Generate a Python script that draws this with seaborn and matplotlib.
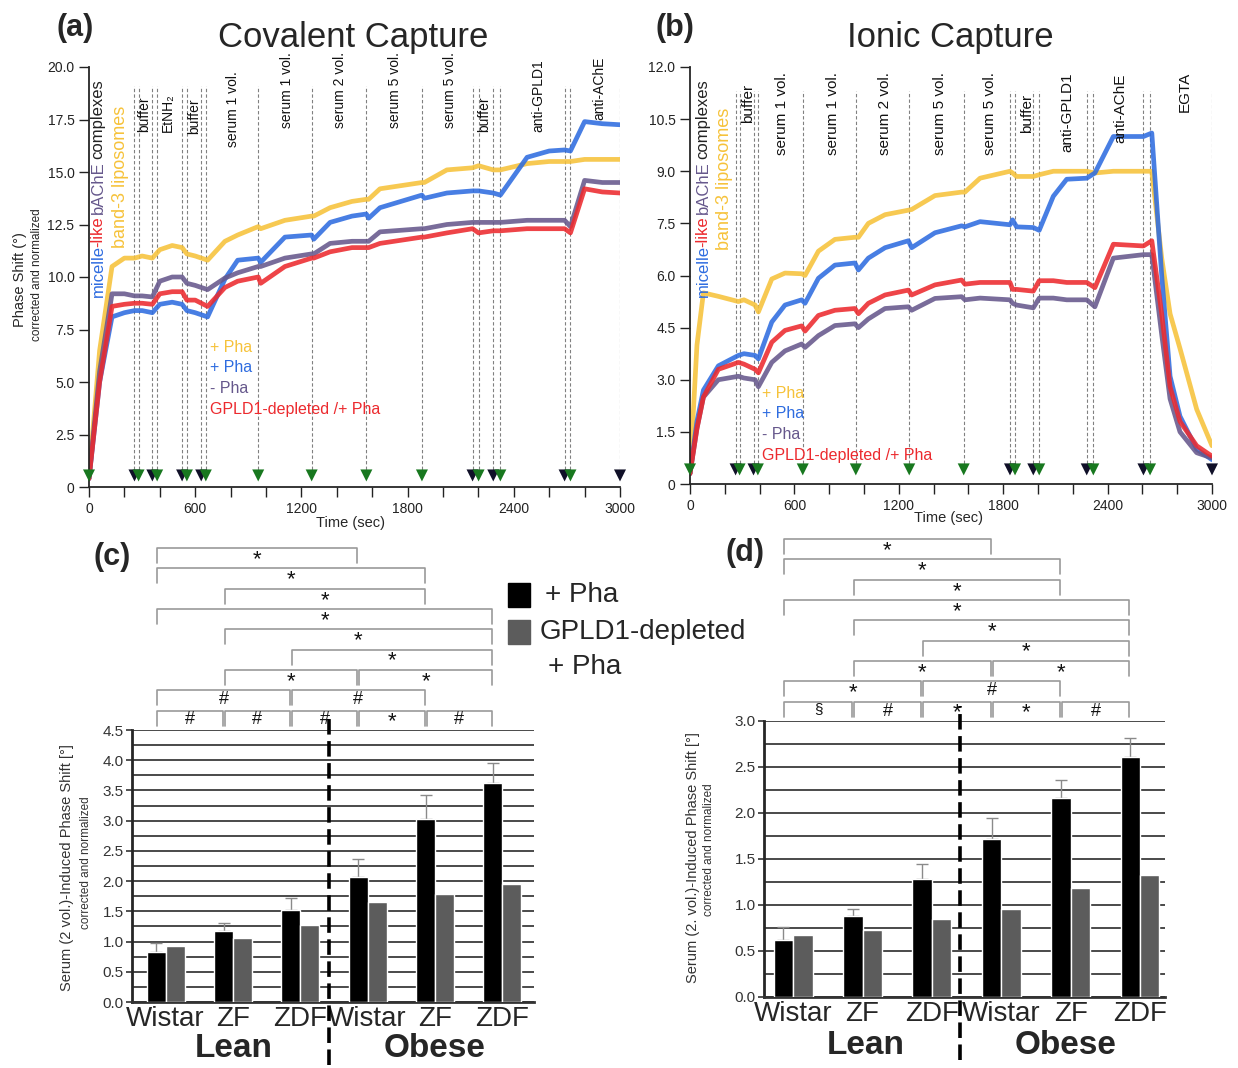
import numpy as np
import pandas as pd
import matplotlib
matplotlib.use("Agg")
import matplotlib.pyplot as plt
from matplotlib.patches import Rectangle
import seaborn as sns

# ── Sensor traces, panel (a): covalent capture ─────────────────────────────
t_a = [0, 60, 130, 200, 257, 300, 358, 400, 470, 526, 553, 600, 670, 768, 840,
       956, 970, 1107, 1258, 1270, 1362, 1486, 1567, 1580, 1644, 1881, 1895,
       2022, 2167, 2201, 2284, 2324, 2475, 2600, 2687, 2720, 2800, 2900, 3000]
a_band3 = [0.5, 6.5, 10.5, 10.9, 10.9, 11.0, 10.9, 11.3, 11.5, 11.4, 11.1, 11.0,
           10.8, 11.7, 12.0, 12.4, 12.3, 12.7, 12.9, 12.9, 13.3, 13.6, 13.7, 13.7,
           14.2, 14.5, 14.5, 15.1, 15.2, 15.3, 15.1, 15.1, 15.4, 15.5, 15.5, 15.5,
           15.6, 15.6, 15.6]
a_micelle = [0.4, 5.0, 8.1, 8.3, 8.4, 8.4, 8.3, 8.7, 8.8, 8.7, 8.4, 8.3, 8.1, 9.9,
             10.8, 10.9, 10.7, 11.9, 12.0, 11.8, 12.6, 12.9, 13.0, 12.8, 13.3, 13.9,
             13.75, 14.0, 14.1, 14.1, 14.0, 13.9, 15.7, 16.0, 16.05, 16.0, 17.4,
             17.3, 17.25]
a_nopha = [0.4, 5.5, 9.2, 9.2, 9.1, 9.1, 9.05, 9.8, 10.0, 10.0, 9.7, 9.6, 9.4,
           9.95, 10.2, 10.5, 10.5, 10.9, 11.1, 11.1, 11.6, 11.7, 11.7, 11.7, 12.15,
           12.3, 12.3, 12.5, 12.6, 12.6, 12.6, 12.6, 12.7, 12.7, 12.7, 12.4, 14.6,
           14.5, 14.5]
a_depleted = [0.4, 5.0, 8.6, 8.7, 8.75, 8.75, 8.7, 9.2, 9.3, 9.3, 8.9, 8.9, 8.6,
              9.5, 9.8, 10.0, 9.7, 10.5, 10.9, 10.9, 11.2, 11.4, 11.4, 11.4, 11.6,
              11.9, 11.9, 12.1, 12.3, 12.1, 12.2, 12.2, 12.3, 12.3, 12.3, 12.1,
              14.2, 14.05, 14.0]

# ── Sensor traces, panel (b): ionic capture ────────────────────────────────
t_b = [0, 40, 77, 163, 278, 310, 374, 393, 470, 546, 642, 661, 738, 833, 948,
       968, 1025, 1121, 1255, 1274, 1408, 1561, 1580, 1667, 1839, 1854, 1877,
       1973, 2007, 2088, 2165, 2280, 2327, 2433, 2606, 2654, 2711, 2759, 2816,
       2912, 3000]
b_band3 = [0.3, 4.0, 5.5, 5.4, 5.25, 5.3, 5.15, 4.95, 5.9, 6.07, 6.05, 6.0, 6.7,
           7.04, 7.1, 7.1, 7.5, 7.75, 7.88, 7.9, 8.3, 8.4, 8.4, 8.8, 9.0, 8.95,
           8.85, 8.85, 8.9, 9.0, 9.0, 9.0, 8.95, 9.0, 9.0, 9.0, 6.5, 4.9, 3.9,
           2.15, 1.1]
b_micelle = [0.3, 1.8, 2.7, 3.4, 3.7, 3.75, 3.7, 3.6, 4.66, 5.15, 5.3, 5.2, 5.92,
             6.3, 6.36, 6.16, 6.5, 6.8, 7.0, 6.8, 7.23, 7.43, 7.4, 7.55, 7.46, 7.6,
             7.4, 7.38, 7.3, 8.28, 8.77, 8.8, 8.95, 10.0, 10.0, 10.1, 6.0, 3.1,
             1.95, 1.0, 0.7]
b_nopha = [0.3, 1.6, 2.5, 3.0, 3.1, 3.05, 3.0, 2.8, 3.5, 3.83, 4.03, 3.93, 4.27,
           4.56, 4.61, 4.5, 4.75, 5.05, 5.1, 5.0, 5.34, 5.39, 5.3, 5.35, 5.3, 5.2,
           5.15, 5.07, 5.35, 5.35, 5.3, 5.3, 5.1, 6.5, 6.6, 6.6, 4.3, 2.45, 1.5,
           0.9, 0.75]
b_depleted = [0.3, 1.6, 2.5, 3.3, 3.5, 3.45, 3.3, 3.2, 4.08, 4.42, 4.55, 4.4,
              4.85, 5.0, 5.05, 4.9, 5.2, 5.44, 5.58, 5.44, 5.73, 5.87, 5.75, 5.8,
              5.8, 5.6, 5.6, 5.55, 5.85, 5.85, 5.8, 5.8, 5.65, 6.9, 6.85, 7.0, 4.9,
              2.8, 1.8, 1.1, 0.8]

# injections: time and kind (g = sample, k = wash)
ev_a_t = [0, 257, 280, 358, 385, 526, 553, 634, 660, 956, 1258, 1567, 1881,
          2167, 2201, 2284, 2324, 2687, 2720, 3000]
ev_a_k = ["g", "k", "g", "k", "g", "k", "g", "k", "g", "g", "g", "g", "g",
          "k", "g", "k", "g", "k", "g", "k"]
ev_b_t = [0, 262, 285, 365, 390, 648, 953, 1260, 1573, 1839, 1868, 1973, 2007,
          2280, 2318, 2606, 2644, 3000]
ev_b_k = ["g", "k", "g", "k", "g", "g", "g", "g", "g", "k", "g", "k", "g",
          "k", "g", "k", "g", "k"]

lab_a = ["buffer", "EtNH₂", "buffer", "serum 1 vol.", "serum 1 vol.", "serum 2 vol.",
         "serum 5 vol.", "serum 5 vol.", "buffer", "anti-GPLD1", "anti-AChE"]
lab_a_t = [311, 446, 593, 814, 1119, 1418, 1729, 2040, 2232, 2537, 2881]
lab_a_y = [16.9, 16.9, 16.8, 16.2, 17.1, 17.1, 17.1, 17.1, 16.9, 16.9, 17.5]
lab_b = ["buffer", "serum 1 vol.", "serum 1 vol.", "serum 2 vol.", "serum 5 vol.",
         "serum 5 vol.", "buffer", "anti-GPLD1", "anti-AChE", "EGTA"]
lab_b_t = [333, 529, 822, 1121, 1437, 1724, 1937, 2167, 2471, 2845]
lab_b_y = [10.4, 9.47, 9.47, 9.47, 9.47, 9.47, 10.1, 9.55, 9.8, 10.7]

# ── Bar charts (c) and (d) ─────────────────────────────────────────────────
groups = ["Lean Wistar", "Lean ZF", "Lean ZDF", "Obese Wistar", "Obese ZF", "Obese ZDF"]
strains = ["Wistar", "ZF", "ZDF", "Wistar", "ZF", "ZDF"]
treatments = ["+ Pha", "GPLD1-depleted + Pha"]
c_pha = [0.83, 1.17, 1.52, 2.06, 3.02, 3.63]
c_pha_err = [0.14, 0.14, 0.20, 0.31, 0.40, 0.32]
c_depl = [0.93, 1.06, 1.28, 1.65, 1.79, 1.95]
d_pha = [0.62, 0.88, 1.28, 1.72, 2.16, 2.61]
d_pha_err = [0.14, 0.08, 0.17, 0.23, 0.20, 0.20]
d_depl = [0.67, 0.73, 0.85, 0.96, 1.19, 1.33]

# significance brackets: (from, to, symbol, row)  row 0 = closest to the plot
c_sig = [(0, 1, "#", 0), (1, 2, "#", 0), (2, 3, "#", 0), (3, 4, "*", 0), (4, 5, "#", 0),
         (0, 2, "#", 1), (2, 4, "#", 1), (1, 3, "*", 2), (3, 5, "*", 2),
         (2, 5, "*", 3), (1, 5, "*", 4), (0, 5, "*", 5), (1, 4, "*", 6),
         (0, 4, "*", 7), (0, 3, "*", 8)]
d_sig = [(0, 1, "§", 0), (1, 2, "#", 0), (2, 3, "*", 0), (3, 4, "*", 0), (4, 5, "#", 0),
         (0, 2, "*", 1), (2, 4, "#", 1), (1, 3, "*", 2), (3, 5, "*", 2),
         (2, 5, "*", 3), (1, 5, "*", 4), (0, 5, "*", 5), (1, 4, "*", 6),
         (0, 4, "*", 7), (0, 3, "*", 8)]

# ── Style ──────────────────────────────────────────────────────────────────
sns.set_style("ticks")
plt.rcParams["font.family"] = ["Liberation Sans", "DejaVu Sans"]
plt.rcParams["axes.linewidth"] = 1.3

YEL, BLU, PUR, RED = "#F6C23A", "#2E6CE0", "#66588C", "#EC2A2E"
GREEN, NAVY = "#18781F", "#101028"
TRACE_ORDER = ["band-3 + Pha", "micelle + Pha", "micelle - Pha", "GPLD1-depleted + Pha"]
TRACE_PAL = dict(zip(TRACE_ORDER, [YEL, BLU, PUR, RED]))

W, H = 1238, 1068
fig = plt.figure(figsize=(W / 100, H / 100), dpi=100)


def frac(x, y):
    return x / W, 1 - y / H


def traces_frame(t, cols):
    parts = [pd.DataFrame({"t": t, "v": v, "trace": k}) for k, v in zip(TRACE_ORDER, cols)]
    return pd.concat(parts, ignore_index=True)


def sensor_panel(ax, df, ev_t, ev_k, ymax, ystep, line_top, arrow_y):
    sns.lineplot(data=df, x="t", y="v", hue="trace", hue_order=TRACE_ORDER,
                 palette=TRACE_PAL, estimator=None, sort=False, lw=3.4,
                 alpha=0.88, legend=False, ax=ax)
    for t in ev_t:
        if t > 0:
            ax.plot([t, t], [arrow_y, line_top], color="#808080", lw=0.8,
                    ls=(0, (3, 2)), zorder=1)
    ev = pd.DataFrame({"t": ev_t, "y": arrow_y, "k": ev_k})
    sns.scatterplot(data=ev, x="t", y="y", hue="k", palette={"g": GREEN, "k": NAVY},
                    marker="v", s=75, edgecolor="none", legend=False, ax=ax,
                    clip_on=False, zorder=5)
    ax.set_xlim(0, 3000)
    ax.set_ylim(0, ymax)
    ticks = np.arange(0, ymax + 1e-6, ystep)
    ax.set_yticks(ticks)
    ax.set_yticklabels(["0"] + [f"{v:.1f}" for v in ticks[1:]])
    ax.set_xticks(np.arange(0, 3001, 600))
    ax.set_xticks(np.arange(0, 3001, 200), minor=True)
    ax.tick_params(axis="both", which="both", direction="out", length=7,
                   width=1.0, labelsize=10, colors="#222222")
    ax.set_xlabel("")
    ax.set_ylabel("")
    sns.despine(ax=ax)


def vertical_labels(ax, labels, xs, ys, size):
    for s, x, y in zip(labels, xs, ys):
        ax.text(x, y, s, rotation=90, ha="center", va="bottom", fontsize=size,
                color="#111111", clip_on=False)


def stacked_rotated(ax, x, y0, parts, size):
    # multicoloured rotated label, pieces stacked bottom to top
    r = fig.canvas.get_renderer()
    space = 0.26 * size * 100 / 72
    y = y0
    for s, c, gap in parts:
        t = ax.text(x, y, s, rotation=90, ha="center", va="bottom", fontsize=size,
                    color=c, clip_on=False)
        top = t.get_window_extent(r).y1 - 2 + (space if gap else 0)
        y = ax.transData.inverted().transform((0, top))[1]


MICELLE = [("micelle", BLU, False), ("-like", RED, True), ("bAChE", PUR, True),
           ("complexes", "#222222", False)]

# ── (a) covalent capture ───────────────────────────────────────────────────
ax_a = fig.add_axes([89 / W, 1 - 487 / H, 531 / W, 420 / H])
sensor_panel(ax_a, traces_frame(t_a, [a_band3, a_micelle, a_nopha, a_depleted]),
             ev_a_t, ev_a_k, 20, 2.5, 19.1, 0.55)
vertical_labels(ax_a, lab_a, lab_a_t, lab_a_y, 10)
stacked_rotated(ax_a, 51, 9.05, MICELLE, 12)
ax_a.text(180, 11.4, "band-3 liposomes", rotation=90, ha="center", va="bottom",
          fontsize=13, color=YEL)

# ── (b) ionic capture ──────────────────────────────────────────────────────
ax_b = fig.add_axes([690 / W, 1 - 484 / H, 522 / W, 417 / H])
sensor_panel(ax_b, traces_frame(t_b, [b_band3, b_micelle, b_nopha, b_depleted]),
             ev_b_t, ev_b_k, 12, 1.5, 11.3, 0.42)
vertical_labels(ax_b, lab_b, lab_b_t, lab_b_y, 11)
stacked_rotated(ax_b, 75, 5.38, MICELLE, 12)
ax_b.text(201, 6.73, "band-3 liposomes", rotation=90, ha="center", va="bottom",
          fontsize=13, color=YEL)

# trace keys
for (x0, y0) in ((210, 347), (762, 393)):
    for k, (txt, col) in enumerate([("+ Pha", YEL), ("+ Pha", BLU), ("- Pha", PUR),
                                    ("GPLD1-depleted /+ Pha", RED)]):
        fig.text(*frac(x0, y0 + k * 21), txt, color=col, fontsize=11.5,
                 ha="left", va="center")

fig.text(*frac(350, 523), "Time (sec)", ha="center", va="center", fontsize=10.5)
fig.text(*frac(948, 518), "Time (sec)", ha="center", va="center", fontsize=10.5)
fig.text(*frac(20, 280), "Phase Shift (°)", rotation=90, ha="center", va="center",
         fontsize=10.5)
fig.text(*frac(37, 275), "corrected and normalized", rotation=90, ha="center",
         va="center", fontsize=8.5)
fig.text(*frac(353, 37), "Covalent Capture", ha="center", va="center", fontsize=25)
fig.text(*frac(950, 37), "Ionic Capture", ha="center", va="center", fontsize=25)
fig.text(*frac(75, 28), "(a)", ha="center", va="center", fontsize=22, weight="bold")
fig.text(*frac(675, 28), "(b)", ha="center", va="center", fontsize=22, weight="bold")


# ── (c)/(d) bar charts ─────────────────────────────────────────────────────
def bar_panel(ax, pha, pha_err, depl, ymax, xlim, split, sig, ax_h_px,
              lean_x, obese_x, group_y):
    df = pd.DataFrame({"group": groups * 2, "value": pha + depl,
                       "treat": [treatments[0]] * 6 + [treatments[1]] * 6})
    sns.barplot(data=df, x="group", y="value", hue="treat", order=groups,
                hue_order=treatments, palette=["#000000", "#5c5c5c"], width=0.56,
                errorbar=None, saturation=1, legend=False, ax=ax, zorder=3)
    for bar, e in zip(ax.containers[0], pha_err):
        xc = bar.get_x() + bar.get_width() / 2
        ax.errorbar(xc, bar.get_height(), yerr=[[0], [e]], color="#8a8a8a",
                    lw=1.0, capsize=4, capthick=1.0, zorder=2)
    ax.set_xlim(*xlim)
    ax.set_ylim(0, ymax)
    ax.set_yticks(np.arange(0, ymax + 1e-6, 0.5))
    ax.set_yticks(np.arange(0, ymax + 1e-6, 0.25), minor=True)
    ax.set_yticklabels([f"{v:.1f}" for v in np.arange(0, ymax + 1e-6, 0.5)])
    ax.grid(axis="y", which="both", color="#4a4a4a", lw=1.4, zorder=0)
    ax.set_axisbelow(True)
    ax.set_xticks(range(6))
    ax.set_xticklabels(strains, fontsize=20)
    ax.tick_params(axis="x", length=0, pad=3)
    ax.tick_params(axis="y", which="major", length=4, width=1.2, labelsize=11,
                   pad=2, colors="#333333")
    ax.tick_params(axis="y", which="minor", length=0)
    ax.set_xlabel("")
    ax.set_ylabel("")
    for s in ("top", "right"):
        ax.spines[s].set_visible(False)
    ax.spines["left"].set_linewidth(2.0)
    ax.spines["bottom"].set_linewidth(2.0)
    ax.spines["bottom"].set_color("#333333")
    ax.axvline(split, ymin=-0.23, ymax=1.055, color="black", lw=2.6,
               ls=(0, (4.3, 1.8)), clip_on=False, zorder=4)
    tr = ax.get_xaxis_transform()
    ax.text(lean_x, group_y, "Lean", transform=tr, ha="center", va="center",
            fontsize=24, weight="bold")
    ax.text(obese_x, group_y, "Obese", transform=tr, ha="center", va="center",
            fontsize=24, weight="bold")
    # significance brackets
    step, leg, base = 20.3 / ax_h_px, 15 / ax_h_px, 1 + 19.5 / ax_h_px
    sizes = {"*": 16, "#": 13, "§": 11}
    for i, j, sym, row in sig:
        y = base + row * step
        xi, xj = i - 0.14 + 0.015, j - 0.14 - 0.015
        ax.plot([xi, xi, xj, xj], [y - leg, y, y, y - leg], color="#9a9a9a",
                lw=1.2, transform=tr, clip_on=False)
        ax.text((xi + xj) / 2, y - 1 / ax_h_px, sym, transform=tr, ha="center",
                va="top", fontsize=sizes[sym], color="#111111")


ax_c = fig.add_axes([132 / W, 1 - 1002 / H, 402 / W, 272 / H])
bar_panel(ax_c, c_pha, c_pha_err, c_depl, 4.5, (-0.5, 5.47), 2.42, c_sig, 272,
          1.01, 3.99, -0.17)
ax_d = fig.add_axes([764 / W, 1 - 997 / H, 401 / W, 276 / H])
bar_panel(ax_d, d_pha, d_pha_err, d_depl, 3.0, (-0.42, 5.36), 2.40, d_sig, 276,
          1.04, 3.93, -0.175)

fig.text(*frac(67, 868), "Serum (2 vol.)-Induced Phase Shift [°]", rotation=90,
         ha="center", va="center", fontsize=10.5, color="#333333")
fig.text(*frac(86, 863), "corrected and normalized", rotation=90, ha="center",
         va="center", fontsize=8.5, color="#333333")
fig.text(*frac(693, 858), "Serum (2. vol.)-Induced Phase Shift [°]", rotation=90,
         ha="center", va="center", fontsize=10.5, color="#333333")
fig.text(*frac(709, 850), "corrected and normalized", rotation=90, ha="center",
         va="center", fontsize=8.5, color="#333333")
fig.text(*frac(112, 557), "(c)", ha="center", va="center", fontsize=22, weight="bold")
fig.text(*frac(745, 553), "(d)", ha="center", va="center", fontsize=22, weight="bold")

# shared legend for (c)/(d)
for (x0, y0), col in (((508, 583), "#000000"), ((508, 620), "#5c5c5c")):
    fig.patches.append(Rectangle(frac(x0, y0 + 24), 22 / W, 24 / H, color=col,
                                 transform=fig.transFigure, figure=fig))
fig.text(*frac(545, 595), "+ Pha", fontsize=20, ha="left", va="center")
fig.text(*frac(540, 632), "GPLD1-depleted", fontsize=20, ha="left", va="center")
fig.text(*frac(548, 667), "+ Pha", fontsize=20, ha="left", va="center")

fig.savefig("out.png", dpi=100)
